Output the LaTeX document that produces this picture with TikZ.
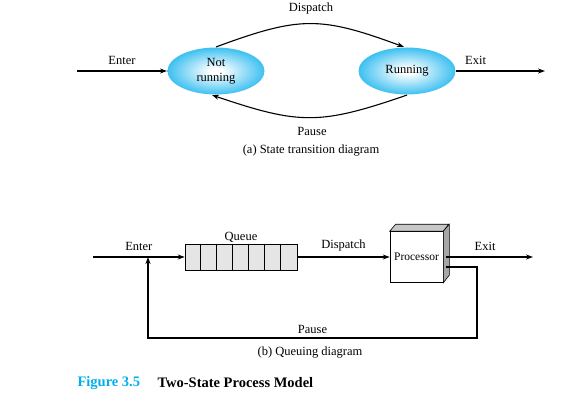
\documentclass[tikz,border=0pt]{standalone}
\usepackage{fontspec}
\setmainfont{Liberation Serif}
\usetikzlibrary{arrows.meta,positioning,shapes.geometric}

\definecolor{stateblue}{RGB}{0,172,236}
\definecolor{figblue}{RGB}{0,174,239}
\pgfdeclareradialshading{stateshade}{\pgfpoint{0bp}{0bp}}{%
  color(0bp)=(white); color(3bp)=(white); color(32bp)=(stateblue); color(50bp)=(stateblue)}

\begin{document}
\begin{tikzpicture}[
    x = 1pt, y = -1pt, % pixel grid, y down
    > = {Stealth[length=7pt,width=5pt]}, % arrow head style
    line width = 1.1pt, % line style
    font = \fontsize{12.5}{15}\selectfont
    ]

    \tikzset{
    state/.style = {ellipse, draw = none, shading = stateshade,
        minimum width = 97pt, minimum height = 47pt, inner sep = 0pt, align = center},
    queuebox/.style = {rectangle, draw, line width = 0.6pt, fill = black!10,
        minimum width = 112pt, minimum height = 26pt, inner sep = 0pt},
    procbox/.style = {rectangle, draw, line width = 0.6pt, fill = white,
        minimum width = 53pt, minimum height = 51pt, inner sep = 0pt,
        font = \fontsize{11.5}{13}\selectfont},
    face/.style = {draw, line width = 0.6pt}
    }
    \useasboundingbox (0,0) rectangle (577,404);

    % (a) state transition diagram
    \node[state] (nr) at (216,71) {Not\\running};
    \node[state] (run) at (407,71) {Running};
    \coordinate (in1) at (77,71);
    \coordinate (out1) at (545,71);

    \draw[->] (in1) -- (nr) node[midway,above=2pt] {Enter};
    \draw[->] (run) -- (out1) node[pos=0.22,above=2pt] {Exit};
    \draw[->] (nr.north) .. controls (300,16) and (320,16) .. ([xshift=-3pt]run.north);
    \draw[->] (run.south) .. controls (320,125) and (300,125) .. ([xshift=-4pt]nr.south);

    \node (disp1) at (311,8) {Dispatch};
    \node (pause1) at (312,131) {Pause};
    \node (capa) at (311,151) {(a) State transition diagram};

    % (b) queuing diagram
    \node[queuebox, label={[inner sep=1pt]above:Queue}] (q) at (241,257) {};
    \foreach \i in {1,...,6}
        \draw[line width=0.6pt] ([xshift=\i*16pt]q.north west) -- ([xshift=\i*16pt]q.south west);

    \node[procbox] (p) at (416.5,257) {Processor};
    \draw[face, fill=black!22] (p.north west) -- ++(6,-7) -- ++(53,0) -- (p.north east) -- cycle;
    \draw[face, fill=black!35] (p.north east) -- ++(6,-7) -- ++(0,51) -- (p.south east) -- cycle;

    \coordinate (in2) at (93,257);
    \coordinate (j) at (148,257);
    \coordinate (pexit) at (446,257);
    \coordinate (pout) at (446,267);
    \coordinate (out2) at (533,257);
    \coordinate (pr) at (477,338);

    \draw[->] (in2) -- (q) node[midway,above=2pt] {Enter};
    \draw[->] (q) -- (p) node[midway,above=2pt] {Dispatch};
    \draw[->] (pexit) -- (out2) node[pos=0.45,above=2pt] {Exit};
    \draw[->] (pout) -| (pr) -| (j);
    \path (pr) -- (pr -| j) node[midway,above=1pt] {Pause};

    \node (capb) at (310,353) {(b) Queuing diagram};

    % figure caption
    \node[anchor=west, font=\fontsize{14.5}{16}\selectfont\bfseries, text=figblue, inner sep=0pt]
        (fig) at (77,383) {Figure 3.5};
    \node[anchor=west, font=\fontsize{14.5}{16}\selectfont\bfseries, inner sep=0pt]
        (title) at (157,383) {Two-State Process Model};
\end{tikzpicture}
\end{document}
